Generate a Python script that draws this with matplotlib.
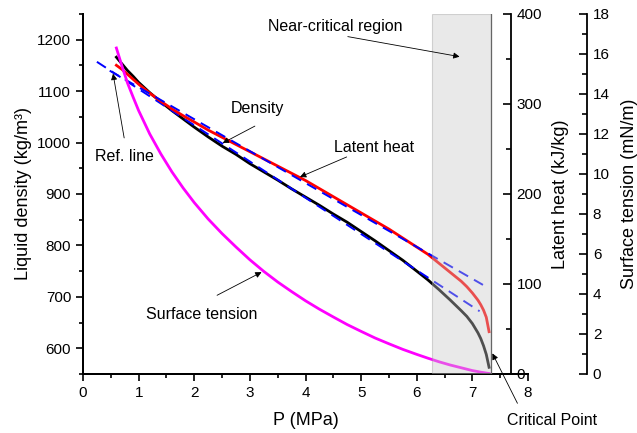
import matplotlib
matplotlib.use("Agg")
import matplotlib.pyplot as plt
from matplotlib.ticker import MultipleLocator

plt.rcParams['font.family'] = ['Liberation Sans', 'DejaVu Sans']

# saturation data
pressure = [0.60, 0.70, 0.80, 0.90, 1.00, 1.20, 1.40, 1.60, 1.80, 2.00,
            2.25, 2.50, 2.75, 3.00, 3.25, 3.50, 3.75, 4.00, 4.25, 4.50,
            4.75, 5.00, 5.25, 5.50, 5.75, 6.00, 6.20, 6.40, 6.60, 6.80,
            6.90, 7.00, 7.10, 7.15, 7.20, 7.25, 7.30]
density = [1166, 1153, 1140, 1129, 1117, 1097, 1079, 1062, 1046, 1030,
           1011, 993, 977, 959, 943, 927, 910, 894, 878, 861,
           845, 827, 809, 790, 771, 750, 733, 714, 694, 673,
           662, 648, 630, 619, 605, 588, 563]
latent_heat = [343, 338.5, 333, 327.5, 322, 312, 303, 294.5, 287, 280,
               271, 263, 255, 247, 239, 231, 223, 215, 206, 197,
               188, 179, 170, 161, 151, 141, 133, 123, 113, 103,
               97, 90, 82, 77, 71, 63, 47]
surf_tension = [16.3, 15.4, 14.55, 13.85, 13.17, 12.0, 11.0, 10.1, 9.3, 8.57,
                7.75, 7.02, 6.35, 5.71, 5.13, 4.6, 4.12, 3.66, 3.24, 2.85,
                2.47, 2.13, 1.80, 1.51, 1.23, 0.98, 0.79, 0.61, 0.45, 0.31,
                0.24, 0.17, 0.12, 0.09, 0.07, 0.045, 0.025]

# reference lines (end points)
ref_rho_p = [0.25, 7.13]
ref_rho = [1157, 672]
ref_lh_p = [0.48, 7.19]
ref_lh = [337, 99]

near_crit = [6.28, 7.34]

fig = plt.figure(figsize=(6.37, 4.33), dpi=100)
ax = fig.add_axes([0.1303, 0.1363, 0.6986, 0.8314])
ax2 = ax.twinx()
ax3 = ax.twinx()

ax.plot(pressure, density, color='black', lw=2, zorder=2)
ax.plot(ref_rho_p, ref_rho, color='#0000ff', lw=1.4, ls=(0, (5.5, 3.5)), zorder=3)
ax2.plot(pressure, latent_heat, color='#ff0000', lw=2, zorder=2)
ax2.plot(ref_lh_p, ref_lh, color='#0000ff', lw=1.4, ls=(0, (5.5, 3.5)), zorder=3)
ax3.plot(pressure, surf_tension, color='#ff00ff', lw=2, zorder=2)

ax3.axvspan(near_crit[0], near_crit[1], facecolor='#c8c8c8', alpha=0.4,
            edgecolor='#999999', lw=0.8, zorder=5)
ax3.axvline(near_crit[1], color='#666666', lw=0.9, zorder=6)

ax.set_xlim(0, 8)
ax.set_ylim(550, 1250)
ax2.set_ylim(0, 400)
ax3.set_ylim(0, 18)

for a in (ax, ax2, ax3):
    a.spines['top'].set_visible(False)
ax.spines['right'].set_visible(False)
ax2.spines['right'].set_position(('axes', 0.962))
ax3.spines['right'].set_position(('axes', 1.133))
for a in (ax, ax2, ax3):
    for s in a.spines.values():
        s.set_linewidth(1.3)

ax.xaxis.set_major_locator(MultipleLocator(1))
ax.xaxis.set_minor_locator(MultipleLocator(0.5))
ax.yaxis.set_minor_locator(MultipleLocator(50))
ax.set_yticks(range(600, 1201, 100))
ax2.yaxis.set_major_locator(MultipleLocator(100))
ax2.yaxis.set_minor_locator(MultipleLocator(50))
ax3.yaxis.set_major_locator(MultipleLocator(2))
ax3.yaxis.set_minor_locator(MultipleLocator(1))

ax.tick_params(which='major', direction='out', length=5, width=1.2, labelsize=11)
ax.tick_params(which='minor', direction='out', length=3, width=1.2)
for a in (ax2, ax3):
    a.tick_params(which='major', direction='in', length=6, width=1.2, labelsize=11, pad=4)
    a.tick_params(which='minor', direction='in', length=3.5, width=1.2)

ax.set_xlabel('P (MPa)', fontsize=13, labelpad=9)
ax.set_ylabel('Liquid density (kg/m³)', fontsize=13, labelpad=4)
ax2.set_ylabel('Latent heat (kJ/kg)', fontsize=13, labelpad=7)
ax3.set_ylabel('Surface tension (mN/m)', fontsize=13, labelpad=8)

arrow = dict(arrowstyle='-|>', color='black', lw=0.6, mutation_scale=9,
             shrinkA=0, shrinkB=0)
notes = [
    ('Near-critical region', (6.77, 1167), (4.54, 1225), (4.76, 1206)),
    ('Density', (2.51, 999), (3.14, 1067), (3.09, 1032)),
    ('Latent heat', (3.90, 933), (5.24, 991), (4.74, 972)),
    ('Ref. line', (0.54, 1134), (0.75, 972), (0.74, 1009)),
    ('Surface tension', (3.21, 748), (2.14, 666), (2.41, 703)),
    ('Critical Point', (7.36, 590), (8.44, 460), (7.81, 493)),
]
for label, tip, text_pos, tail in notes:
    ax3.annotate('', xy=tip, xytext=tail, xycoords=ax.transData,
                 textcoords=ax.transData, arrowprops=arrow,
                 annotation_clip=False, zorder=7)
    ax3.text(text_pos[0], text_pos[1], label, transform=ax.transData,
             ha='center', va='center', fontsize=11.5, zorder=7, clip_on=False)

fig.savefig('out.png', dpi=100)
